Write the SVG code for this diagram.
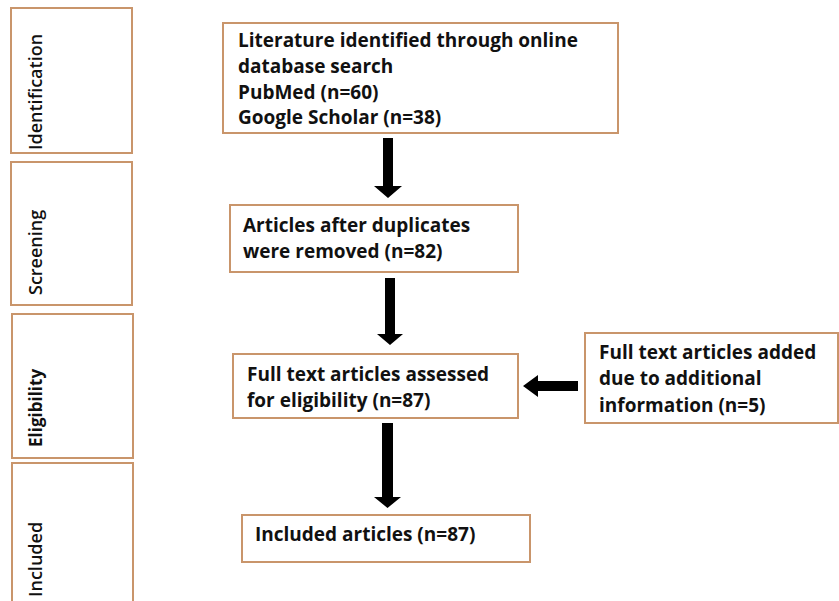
<svg xmlns="http://www.w3.org/2000/svg" width="839" height="601" viewBox="0 0 839 601">
<style>
.box{fill:#fff;stroke:#C9956B;stroke-width:2}
.t{font-family:"Open Sans","Noto Sans","Liberation Sans",sans-serif;font-weight:bold;font-size:19px;fill:#111}
.s{font-family:"Open Sans","Noto Sans","Liberation Sans",sans-serif;font-weight:600;font-size:18px;fill:#111}
.arr{fill:#000}
</style>
<rect width="839" height="601" fill="#fff"/>
<g id="stage-identification">
<rect class="box" x="11" y="8" width="121" height="145"/>
<text class="s" transform="translate(42,150) rotate(-90)">Identification</text>
</g>
<g id="stage-screening">
<rect class="box" x="11" y="162" width="121" height="143"/>
<text class="s" transform="translate(42,295) rotate(-90)">Screening</text>
</g>
<g id="stage-eligibility">
<rect class="box" x="12" y="314" width="121" height="144"/>
<text class="t" style="font-size:17px" transform="translate(42,447) rotate(-90)">Eligibility</text>
</g>
<g id="stage-included">
<rect class="box" x="12" y="463" width="121" height="145"/>
<text class="s" transform="translate(42,597) rotate(-90)">Included</text>
</g>
<g id="n-identified">
<rect class="box" x="223" y="23" width="395" height="110"/>
<text class="t" x="238" y="47">Literature identified through online</text>
<text class="t" x="238" y="73">database search</text>
<text class="t" x="238" y="99">PubMed (n=60)</text>
<text class="t" x="238" y="124">Google Scholar (n=38)</text>
</g>
<g id="n-screened">
<rect class="box" x="230" y="205" width="288" height="67"/>
<text class="t" x="243" y="232">Articles after duplicates</text>
<text class="t" x="243" y="258">were removed (n=82)</text>
</g>
<g id="n-eligible">
<rect class="box" x="233" y="354" width="285" height="64"/>
<text class="t" x="247" y="381">Full text articles assessed</text>
<text class="t" x="247" y="407">for eligibility (n=87)</text>
</g>
<g id="n-added">
<rect class="box" x="585" y="333" width="253" height="90"/>
<text class="t" x="599" y="359">Full text articles added</text>
<text class="t" x="599" y="385">due to additional</text>
<text class="t" x="599" y="412">information (n=5)</text>
</g>
<g id="n-included">
<rect class="box" x="242" y="515" width="288" height="47"/>
<text class="t" x="255" y="541">Included articles (n=87)</text>
</g>
<g id="connectors">
<polygon class="arr" points="383,138 393,138 393,186 402,186 388,198 374,186 383,186"/>
<polygon class="arr" points="385,278 395,278 395,334 403,334 390,345 377,334 385,334"/>
<polygon class="arr" points="382,423 393,423 393,497 401,497 387.5,508 374,497 382,497"/>
<polygon class="arr" points="578,381 538,381 538,375 523,386 538,397 538,391 578,391"/>
</g>
</svg>
